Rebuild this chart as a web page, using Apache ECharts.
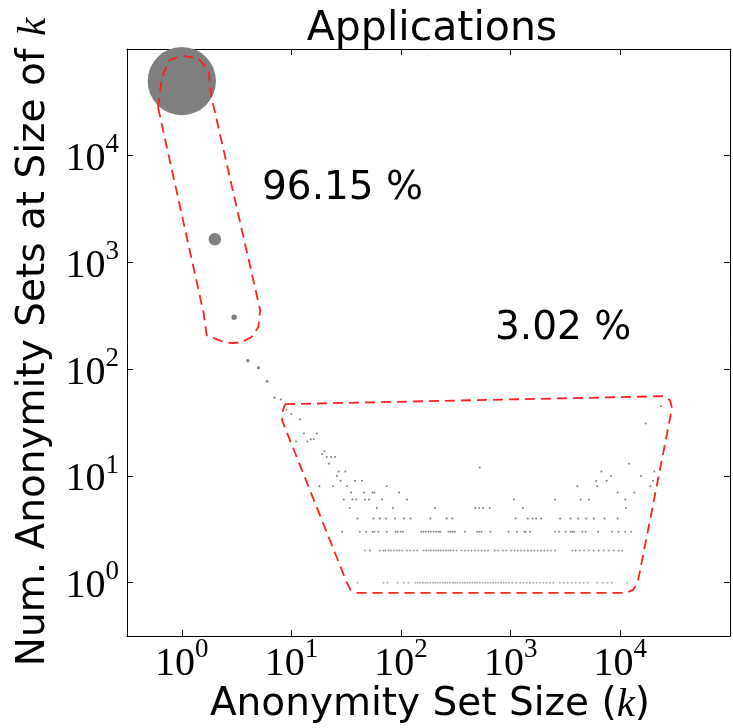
<!DOCTYPE html>
<html>
<head>
<meta charset="utf-8">
<script src="https://cdn.jsdelivr.net/npm/echarts@6/dist/echarts.min.js"></script>
<style>
html,body{margin:0;padding:0;background:#fff;}
#chart{width:733px;height:728px;}
</style>
</head>
<body>
<div id="chart"></div>
<script>
// ---- data: anonymity set size k vs number of sets of that size ----
const headK = [1, 2, 3, 4, 5, 6, 7, 8, 9, 10, 12];
const headCount = [50100, 1650, 307, 120, 103, 77, 54, 52, 42, 38, 34];

// tail: for each count level, the k values having that count
const kAt1 = [40, 69, 75, 93, 106, 117, 135, 142, 150, 158, 166, 174, 184, 195, 205, 215, 227, 240, 252, 264, 279, 296, 310, 326, 344, 364, 382, 402, 424, 448, 471, 494, 522, 552, 584, 617, 652, 690, 729, 771, 815, 861, 910, 962, 1032, 1122, 1219, 1306, 1400, 1500, 1610, 1725, 1849, 1982, 2124, 2276, 2441, 2805, 3050, 3315, 3603, 3915, 4255, 4625, 5027, 6150, 6920, 7620, 8390, 11490];
const kAt2 = [47, 52, 64, 69, 72, 77, 81, 86, 91, 96, 102, 113, 121, 130, 140, 160, 169, 178, 187, 198, 209, 219, 230, 243, 257, 270, 283, 300, 321, 356, 382, 410, 439, 471, 505, 541, 580, 621, 714, 765, 849, 910, 1011, 1084, 1161, 1245, 1333, 1431, 1534, 1643, 1762, 1888, 2024, 2170, 2326, 2540, 3650, 3915, 4255, 4660, 5160, 5730, 6360, 7060, 7830, 8690, 9640, 10350];
const kAt3 = [29, 42, 48, 55, 57, 62, 74, 89, 93, 99, 104, 153, 160, 168, 178, 187, 198, 209, 219, 227, 270, 283, 296, 310, 382, 494, 515, 541, 652, 955, 1144, 1333, 1362, 1500, 2540, 2760, 3170, 3520, 3650, 3770, 4490, 4820, 6270, 8390, 9640, 11090, 12560];
const kAt4 = [40, 56, 64, 73, 88, 106, 122, 185, 261, 293, 1107, 1429, 1585, 1700, 1887, 2820, 3520, 4130, 4880, 5730, 7160, 9440];
const kAt5 = [34, 60, 84, 203, 476, 516, 560, 643, 1288, 11250];
const kAt6 = [30, 36, 39, 47, 51, 67, 113, 1069, 2540, 4340, 5160, 11090];
const kAt7 = [35, 46, 55, 57, 96, 9440, 13370];
const kAt8 = [18, 24, 32, 74, 4050, 6140, 18800];
const kAt9 = [28, 38, 44, 6010, 7510, 19860];
const kAt10 = [26, 8220, 15380];
const kAt11 = [27, 31, 6720, 20400];
const kAt12 = [522];
const kAt13 = [22, 12000];
const kAt15 = [21, 23, 25];
const kAt16 = [19];
const kAt17 = [20];
const kAt21 = [11, 14];
const kAt22 = [15, 16];
const kAt25 = [13, 17];
const kAt31 = [17000];
const kAt45 = [23500];
const tailCounts = [1, 2, 3, 4, 5, 6, 7, 8, 9, 10, 11, 12, 13, 15, 16, 17, 21, 22, 25, 31, 45];
const tailK = [kAt1, kAt2, kAt3, kAt4, kAt5, kAt6, kAt7, kAt8, kAt9, kAt10, kAt11, kAt12, kAt13, kAt15, kAt16, kAt17, kAt21, kAt22, kAt25, kAt31, kAt45];

// tick labels (exponents of 10)
const xTickExp = [0, 1, 2, 3, 4];
const yTickExp = [0, 1, 2, 3, 4];

// annotation outlines (data coordinates)
const capsuleK = [0.607, 0.659, 0.763, 1, 1.425, 1.755, 1.868, 5.19, 4.98, 4.30, 3.49, 2.835, 2.30, 1.684, 1.582, 0.607];
const capsuleC = [28300, 54100, 78000, 86900, 81400, 62800, 35100, 356, 247, 199, 179, 175, 183, 208, 334, 28300];
const boxK = [8.73, 24500, 28300, 29600, 14550, 13120, 11100, 40.0, 34.5, 31.8, 8.20, 8.38, 8.73];
const boxC = [47.0, 55.8, 51.3, 43.2, 1.06, 0.854, 0.801, 0.801, 0.854, 1.015, 33.3, 41.3, 47.0];
const shareLabels = ['96.15 %', '3.02 %'];

// ---- build ----
const points = headK.map((k, i) => [k, headCount[i]]);
tailCounts.forEach((c, i) => tailK[i].forEach(k => points.push([k, c])));
points.sort((a, b) => b[1] - a[1]);

const maxCount = headCount[0];
function dotSize(v) { return Math.max(68.3 * Math.sqrt(v[1] / maxCount), 2.0); }
function dotColor(c) {
  return c === 1 ? '#b0b0b0' : c === 2 ? '#9a9a9a' : c === 3 ? '#8a8a8a' : '#7f7f7f';
}

function isPow10(v, list) {
  const e = Math.log10(v);
  const r = Math.round(e);
  return Math.abs(e - r) < 1e-6 && list.indexOf(r) >= 0 ? r : null;
}
const rich = {
  b: { fontFamily: 'Liberation Serif', fontSize: 40, color: '#000', lineHeight: 48, verticalAlign: 'bottom' },
  s: { fontFamily: 'Liberation Serif', fontSize: 27, color: '#000', lineHeight: 27, verticalAlign: 'top' }
};
const xMin = Math.pow(10, -0.5), xMax = 1e5;
const yMin = Math.pow(10, -0.5), yMax = 1e5;

function mkAxis(pos, min, max, list, showLabel) {
  return {
    type: 'log', logBase: 10, position: pos, min: min, max: max,
    axisLine: { show: true, onZero: false, lineStyle: { color: '#000', width: 1 } },
    axisTick: { show: true, inside: true, length: 6, lineStyle: { color: '#000', width: 1 } },
    minorTick: { show: false },
    splitLine: { show: false },
    axisLabel: {
      show: showLabel, margin: pos === 'bottom' ? 0 : 8,
      formatter: function (v) { const e = isPow10(v, list); return e === null ? '' : '{b|10}{s|' + e + '}'; },
      rich: rich
    }
  };
}

const chart = echarts.init(document.getElementById('chart'), null, { renderer: 'canvas' });
const option = {
  animation: false,
  backgroundColor: '#fff',
  grid: { left: 127, top: 49, right: -2, bottom: 92, containLabel: false },
  xAxis: [mkAxis('bottom', xMin, xMax, xTickExp, true), mkAxis('top', xMin, xMax, xTickExp, false)],
  yAxis: [mkAxis('left', yMin, yMax, yTickExp, true), mkAxis('right', yMin, yMax, yTickExp, false)],
  series: [
    {
      type: 'scatter', xAxisIndex: 0, yAxisIndex: 0, data: points,
      symbol: 'circle', symbolSize: dotSize,
      itemStyle: { opacity: 1, color: function (p) { return dotColor(p.value[1]); } },
      silent: true, clip: true
    },
    {
      type: 'line', xAxisIndex: 0, yAxisIndex: 0, showSymbol: false, silent: true,
      data: capsuleK.map((k, i) => [k, capsuleC[i]]),
      lineStyle: { color: '#ff2020', width: 1.8, type: [10, 6] }
    },
    {
      type: 'line', xAxisIndex: 0, yAxisIndex: 0, showSymbol: false, silent: true,
      data: boxK.map((k, i) => [k, boxC[i]]),
      lineStyle: { color: '#ff2020', width: 1.8, type: [10, 6] }
    }
  ],
  graphic: [
    { type: 'text', x: 432, y: 29, style: { text: 'Applications', fontFamily: 'DejaVu Sans', fontSize: 41, fill: '#000', align: 'center', verticalAlign: 'middle' } },
    { type: 'text', x: 430, y: 705, style: { text: 'Anonymity Set Size ({k|k})', fontFamily: 'DejaVu Sans', fontSize: 39, fill: '#000', align: 'center', verticalAlign: 'middle',
      rich: { k: { fontFamily: 'Liberation Serif', fontStyle: 'italic', fontSize: 41, fill: '#000' } } } },
    { type: 'text', x: 34, y: 342, rotation: Math.PI / 2, style: { text: 'Num. Anonymity Sets at Size of {k|k}', fontFamily: 'DejaVu Sans', fontSize: 39, fill: '#000', align: 'center', verticalAlign: 'middle',
      rich: { k: { fontFamily: 'Liberation Serif', fontStyle: 'italic', fontSize: 41, fill: '#000' } } } },
    { type: 'text', x: 262, y: 189, style: { text: shareLabels[0], fontFamily: 'DejaVu Sans', fontSize: 39, fill: '#000', align: 'left', verticalAlign: 'middle' } },
    { type: 'text', x: 495, y: 329, style: { text: shareLabels[1], fontFamily: 'DejaVu Sans', fontSize: 39, fill: '#000', align: 'left', verticalAlign: 'middle' } }
  ]
};
chart.setOption(option);
</script>
</body>
</html>
